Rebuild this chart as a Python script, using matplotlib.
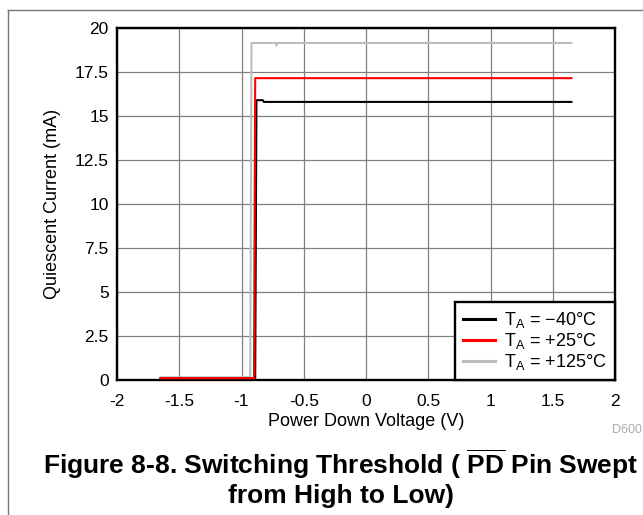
import matplotlib
matplotlib.use("Agg")
import matplotlib.pyplot as plt
from matplotlib.lines import Line2D

plt.rcParams["font.family"] = ["Liberation Sans", "DejaVu Sans"]
plt.rcParams["mathtext.fontset"] = "custom"
plt.rcParams["mathtext.rm"] = "Liberation Sans"
plt.rcParams["mathtext.bf"] = "Liberation Sans:bold"

# sweep data (V, mA)
x_m40 = [-1.65, -0.89, -0.88, -0.83, -0.82, 1.65]
y_m40 = [0.1, 0.1, 15.9, 15.9, 15.8, 15.8]
x_p25 = [-1.65, -0.90, -0.89, 1.65]
y_p25 = [0.1, 0.1, 17.15, 17.15]
x_p125 = [-1.65, -0.93, -0.92, -0.725, -0.72, -0.715, 1.65]
y_p125 = [0.15, 0.15, 19.15, 19.15, 19.0, 19.15, 19.15]

labels = [r"$\mathregular{T_A}$ = −40°C", r"$\mathregular{T_A}$ = +25°C",
          r"$\mathregular{T_A}$ = +125°C"]
colors = ["black", "red", "#bdbdbd"]

xticks = [-2, -1.5, -1, -0.5, 0, 0.5, 1, 1.5, 2]
xticklabels = ["-2", "-1.5", "-1", "-0.5", "0", "0.5", "1", "1.5", "2"]
yticks = [0, 2.5, 5, 7.5, 10, 12.5, 15, 17.5, 20]
yticklabels = ["0", "2.5", "5", "7.5", "10", "12.5", "15", "17.5", "20"]

W, H = 643, 515
fig = plt.figure(figsize=(W / 100, H / 100), dpi=100)
ax = fig.add_axes([117 / W, 1 - 380 / H, 498 / W, 352 / H])

ax.plot(x_m40, y_m40, color=colors[0], lw=1.5, label=labels[0], zorder=3)
ax.plot(x_p25, y_p25, color=colors[1], lw=1.5, label=labels[1], zorder=3)
ax.plot(x_p125, y_p125, color=colors[2], lw=1.5, label=labels[2], zorder=2)

ax.set_xlim(-2, 2)
ax.set_ylim(0, 20)
ax.set_xticks(xticks)
ax.set_xticklabels(xticklabels)
ax.set_yticks(yticks)
ax.set_yticklabels(yticklabels)
ax.tick_params(length=0, labelsize=12.5)
ax.tick_params(axis="x", pad=10)
ax.tick_params(axis="y", pad=6)
ax.grid(True, color="#808080", lw=0.9)
ax.set_axisbelow(True)
for s in ax.spines.values():
    s.set_linewidth(1.7)
    s.set_color("black")

ax.set_xlabel("Power Down Voltage (V)", fontsize=13, labelpad=3)
ax.set_ylabel("Quiescent Current (mA)", fontsize=13, labelpad=10)

leg = ax.legend(loc="lower right", borderaxespad=0, fancybox=False,
                framealpha=1, edgecolor="black", fontsize=13,
                handlelength=1.8, handletextpad=0.5, labelspacing=0.05,
                borderpad=0.45)
leg.get_frame().set_linewidth(1.7)
for h in leg.get_lines():
    h.set_linewidth(2.2)

fig.text(642 / W, 1 - 430 / H, "D600", fontsize=9, color="#aaaaaa",
         ha="right", va="center")

fig.text(341 / W, 1 - 474 / H,
         r"Figure 8-8. Switching Threshold ( $\overline{\mathbf{PD}}$ Pin Swept",
         fontsize=19, fontweight="bold", ha="center", va="baseline")
fig.text(341 / W, 1 - 503 / H, "from High to Low)",
         fontsize=19, fontweight="bold", ha="center", va="baseline")

# outer frame
fig.add_artist(Line2D([8 / W, 8 / W], [0, 1 - 10 / H],
                      transform=fig.transFigure, color="#777777", lw=1))
fig.add_artist(Line2D([8 / W, 1], [1 - 10 / H, 1 - 10 / H],
                      transform=fig.transFigure, color="#777777", lw=1))

plt.savefig("out.png", dpi=100)
